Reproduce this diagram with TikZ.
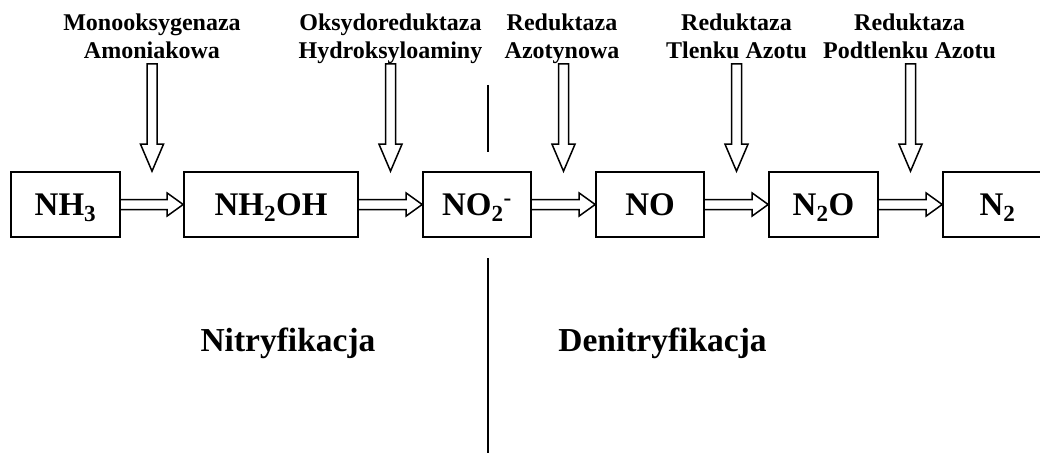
\documentclass[tikz,border=0pt]{standalone}
\usepackage{fontspec}
\setmainfont{Liberation Serif}
\usetikzlibrary{calc}
\tikzset{
  species/.style={draw, line width=1.6pt, text height=25pt, text depth=4pt,
    inner xsep=0pt, inner ysep=18pt,
    font=\fontsize{33}{36}\selectfont\bfseries},
  enzyme/.style={align=center, inner sep=0pt, font=\fontsize{24}{27.6}\selectfont\bfseries},
  region/.style={inner sep=0pt, anchor=base, font=\fontsize{33.5}{38}\selectfont\bfseries},
  hollow/.style={draw, line width=1.5pt, line join=miter},
  divider/.style={draw, line width=1.6pt}
}
\newcommand{\hollowH}[2]{%
  \draw[hollow] ($(#1.east)+(0,5)$) -- ($(#2.west)+(-16,5)$) -- ($(#2.west)+(-16,11.5)$)
    -- (#2.west) -- ($(#2.west)+(-16,-11.5)$) -- ($(#2.west)+(-16,-5)$) -- ($(#1.east)+(0,-5)$);}
\newcommand{\hollowV}[2]{%
  \draw[hollow] ($(#1)+(-5,0)$) -- ($(#2)+(-5,27)$) -- ($(#2)+(-11.5,27)$)
    -- (#2) -- ($(#2)+(11.5,27)$) -- ($(#2)+(5,27)$) -- ($(#1)+(5,0)$) -- cycle;}
\begin{document}
\begin{tikzpicture}[x=1pt,y=1pt]
\useasboundingbox (0,0) rectangle (1040,453);
\clip (0,0) rectangle (1040,453);
% species boxes
\node[species, minimum width=109pt] (n1) at (65.5,248.5) {NH\textsubscript{3}};
\node[species, minimum width=174pt] (n2) at (271,248.5) {NH\textsubscript{2}OH};
\node[species, minimum width=108pt] (n3) at (477,248.5) {NO\textsubscript{2}\textsuperscript{-}};
\node[species, minimum width=108pt] (n4) at (650,248.5) {NO};
\node[species, minimum width=109pt] (n5) at (823.5,248.5) {N\textsubscript{2}O};
\node[species, minimum width=109pt] (n6) at (997.5,248.5) {N\textsubscript{2}};
% horizontal arrows
\hollowH{n1}{n2}
\hollowH{n2}{n3}
\hollowH{n3}{n4}
\hollowH{n4}{n5}
\hollowH{n5}{n6}
% enzyme labels
\node[enzyme] (e1) at (152,414) {\strut Monooksygenaza\\\strut Amoniakowa};
\node[enzyme] (e2) at (390.5,414) {\strut Oksydoreduktaza\\\strut Hydroksyloaminy};
\node[enzyme] (e3) at (562,414) {\strut Reduktaza\\\strut Azotynowa};
\node[enzyme] (e4) at (736.5,414) {\strut Reduktaza\\\strut Tlenku Azotu};
\node[enzyme] (e5) at (909.5,414) {\strut Reduktaza\\\strut Podtlenku Azotu};
% vertical arrow ends
\coordinate (s1) at ($($(n1.east)!0.5!(n2.west)$)+(0,140.5)$);
\coordinate (t1) at ($(n1.north east)!0.5!(n2.north west)$);
\coordinate (s2) at ($($(n2.east)!0.5!(n3.west)$)+(0,140.5)$);
\coordinate (t2) at ($(n2.north east)!0.5!(n3.north west)$);
\coordinate (s3) at ($($(n3.east)!0.5!(n4.west)$)+(0,140.5)$);
\coordinate (t3) at ($(n3.north east)!0.5!(n4.north west)$);
\coordinate (s4) at ($($(n4.east)!0.5!(n5.west)$)+(0,140.5)$);
\coordinate (t4) at ($(n4.north east)!0.5!(n5.north west)$);
\coordinate (s5) at ($($(n5.east)!0.5!(n6.west)$)+(0,140.5)$);
\coordinate (t5) at ($(n5.north east)!0.5!(n6.north west)$);
\hollowV{s1}{t1}
\hollowV{s2}{t2}
\hollowV{s3}{t3}
\hollowV{s4}{t4}
\hollowV{s5}{t5}
% divider
\coordinate (d1) at (488,368);
\coordinate (d2) at (488,301);
\coordinate (d3) at (488,195);
\coordinate (d4) at (488,0);
\draw[divider] (d1) -- (d2);
\draw[divider] (d3) -- (d4);
% region labels
\node[region] (r1) at (288,102) {Nitryfikacja};
\node[region] (r2) at (662.5,102) {Denitryfikacja};
\end{tikzpicture}
\end{document}
